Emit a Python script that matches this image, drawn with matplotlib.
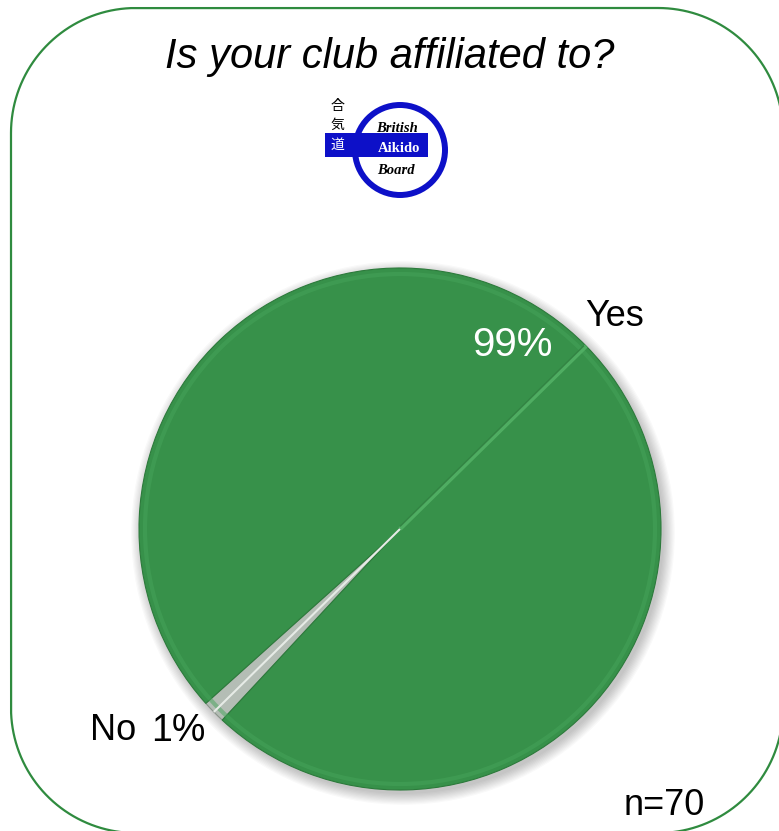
import numpy as np
import matplotlib.pyplot as plt
from matplotlib.patches import Circle, Rectangle

# survey answers (n=70)
answers = ['No', 'Yes']
counts = [1, 69]
title = 'Is your club affiliated to?'
n_total = sum(counts)

green = '#37914a'
silver = '#b4bdb5'
blue = '#0d10c8'

W, H = 779, 831
fig = plt.figure(figsize=(W / 100, H / 100), dpi=100)
ax = fig.add_axes([0, 0, 1, 1])

def py(y):
    # pixel row (from top) -> axes y
    return H - y

# pie
cx, cy, R = 400, py(529), 261
no_mid = 224.5
no_span = counts[0] / n_total * 360
start = no_mid - no_span / 2

# soft shadow
for i in range(10):
    ax.add_patch(Circle((cx + 3, cy - 4), R + i * 1.2, color='black',
                        alpha=0.025, lw=0, zorder=1))

wedges, _ = ax.pie(counts, colors=[silver, green], startangle=start,
                   center=(cx, cy), radius=R, frame=True,
                   wedgeprops=dict(ec='#2c7a3b', lw=0.8, zorder=2))
wedges[0].set_edgecolor('#8a948b')
ax.set_xlim(0, W)
ax.set_ylim(0, H)
ax.set_aspect('equal')
ax.axis('off')

# rounded frame, drawn as arcs
left, right, top, bottom, rr = 11, 783, py(8), py(833), 125
pts = []
for (ox, oy, a0) in [(right - rr, top - rr, 0), (left + rr, top - rr, 90),
                     (left + rr, bottom + rr, 180), (right - rr, bottom + rr, 270)]:
    t = np.deg2rad(np.linspace(a0, a0 + 90, 40))
    pts.append(np.column_stack([ox + rr * np.cos(t), oy + rr * np.sin(t)]))
pts = np.vstack(pts + [pts[0][:1]])
ax.plot(pts[:, 0], pts[:, 1], color='#2f8b3f', lw=1.6, clip_on=False)

ax.text(390, py(68), title, ha='center', va='baseline', fontsize=30,
        style='italic', family='Liberation Sans')

# logo
ax.add_patch(Rectangle((325, py(157)), 103, 24, fc=blue, ec='none'))
ax.add_patch(Circle((400, py(150)), 45, fill=False, ec=blue, lw=4.3))
ax.text(397, py(132), 'British', ha='center', va='baseline', fontsize=10.5,
        weight='bold', style='italic', family='Liberation Serif')
ax.text(399, py(152), 'Aikido', ha='center', va='baseline', fontsize=10.5,
        weight='bold', color='white', family='Liberation Serif')
ax.text(396, py(174), 'Board', ha='center', va='baseline', fontsize=10.5,
        weight='bold', style='italic', family='Liberation Serif')
for ch, yy, col in zip('合気道', [106, 125, 145], ['black', 'black', 'white']):
    ax.text(337, py(yy), ch, ha='center', va='center', fontsize=10,
            color=col, family=['Noto Sans CJK JP', 'DejaVu Sans'])

# bevel rim highlight
ax.add_patch(Circle((cx, cy), R - 6, fill=False, ec='#46a45a', lw=3,
                    alpha=0.5, zorder=3))

# highlight seam on the yes side, opposite the no slice
th = np.deg2rad(no_mid + 180)
ax.plot([cx, cx + R * np.cos(th)], [cy, cy + R * np.sin(th)],
        color='#52b165', lw=3, alpha=0.9, zorder=3, solid_capstyle='butt')
ax.plot([cx, cx + (R - 3) * np.cos(th)], [cy + 2.5, cy + 2.5 + (R - 3) * np.sin(th)],
        color='#2a7539', lw=1, alpha=0.7, zorder=3, solid_capstyle='butt')
# silver highlight on the no slice
th0 = np.deg2rad(no_mid)
ax.plot([cx, cx + R * np.cos(th0)], [cy, cy + R * np.sin(th0)],
        color='#e6ebe6', lw=1.5, zorder=3, solid_capstyle='butt')

pcts = ['%.0f%%' % (c / n_total * 100) for c in counts]

def polar(ang, dist):
    a = np.deg2rad(ang)
    return cx + dist * np.cos(a), cy + dist * np.sin(a)

lab_font = dict(family='Liberation Sans', va='baseline', ha='center')
x, y = polar(45.2, 305)
ax.text(x, y - 13, answers[1], fontsize=26, **lab_font)
x, y = polar(59, 219)
ax.text(x, y - 15, pcts[1], fontsize=29, color='white', **lab_font)
x, y = polar(214.6, 349)
ax.text(x, y - 13, answers[0], fontsize=26, **lab_font)
x, y = polar(221.8, 298)
ax.text(x, y - 13, pcts[0], fontsize=27, **lab_font)

ax.text(664, py(815), 'n=%d' % n_total, fontsize=26, **lab_font)

fig.savefig('out.png', dpi=100)
